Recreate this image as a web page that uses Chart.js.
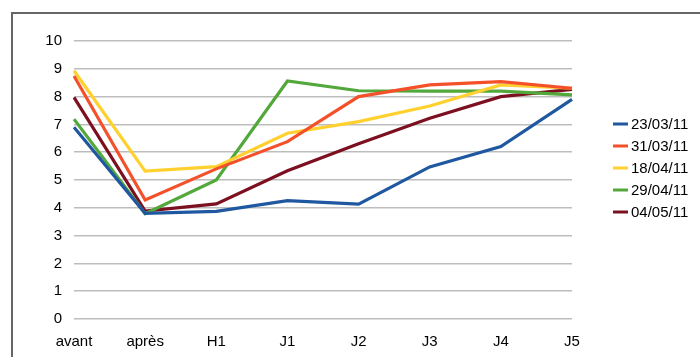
<!DOCTYPE html>
<html>
<head>
<meta charset="utf-8">
<script src="https://cdn.jsdelivr.net/npm/chart.js@4"></script>
<style>
  html, body { margin: 0; padding: 0; background: #fff; overflow: hidden; }
  #wrap { position: relative; width: 700px; height: 357px; }
  #frame {
    position: absolute; left: 11px; top: 12px; width: 720px; height: 400px;
    border-left: 2px solid #666; border-top: 2px solid #666;
  }
  #c { position: absolute; left: 0; top: 0; }
</style>
</head>
<body>
<div id="wrap">
  <div id="frame"></div>
  <canvas id="c" width="700" height="357"></canvas>
</div>
<script>
const steps = ['avant', 'après', 'H1', 'J1', 'J2', 'J3', 'J4', 'J5'];
const dates = ['23/03/11', '31/03/11', '18/04/11', '29/04/11', '04/05/11'];
const colors = ['#1f58a0', '#f4512a', '#ffd02e', '#52a83a', '#7c1020'];

const s23mar = [6.9, 3.8, 3.87, 4.26, 4.13, 5.47, 6.2, 7.9];
const s31mar = [8.74, 4.28, 5.4, 6.38, 8.0, 8.42, 8.54, 8.3];
const s18apr = [8.93, 5.32, 5.48, 6.68, 7.1, 7.66, 8.42, 8.3];
const s29apr = [7.19, 3.79, 5.0, 8.56, 8.21, 8.2, 8.2, 8.06];
const s04may = [7.97, 3.88, 4.14, 5.33, 6.3, 7.22, 8.0, 8.26];

const yTicks = [0, 1, 2, 3, 4, 5, 6, 7, 8, 9, 10];

const series = [s23mar, s31mar, s18apr, s29apr, s04may];
const font = { family: '"Liberation Sans", Arial, sans-serif', size: 15 };

// legend drawn at the right, line sample + label
const sideLegend = {
  id: 'sideLegend',
  afterDraw(chart) {
    const ctx = chart.ctx;
    ctx.save();
    ctx.font = `${font.size}px ${font.family}`;
    ctx.textBaseline = 'middle';
    chart.data.datasets.forEach((ds, i) => {
      const y = 124 + i * 22;
      ctx.strokeStyle = ds.borderColor;
      ctx.lineWidth = 3;
      ctx.beginPath();
      ctx.moveTo(613, y);
      ctx.lineTo(628, y);
      ctx.stroke();
      ctx.fillStyle = '#000';
      ctx.fillText(ds.label, 631, y + 1);
    });
    ctx.restore();
  }
};

new Chart(document.getElementById('c'), {
  type: 'line',
  data: {
    labels: steps,
    datasets: series.map((vals, i) => ({
      label: dates[i],
      data: vals,
      borderColor: colors[i],
      backgroundColor: colors[i],
      borderWidth: 3.2,
      pointRadius: 0,
      tension: 0
    }))
  },
  options: {
    responsive: false,
    animation: false,
    layout: { padding: { left: 0, right: 128, top: 41, bottom: 0 } },
    plugins: { legend: { display: false }, tooltip: { enabled: false } },
    scales: {
      x: {
        offset: false,
        grid: { display: false, drawTicks: false },
        border: { display: false },
        ticks: { font, color: '#000', padding: 14, maxRotation: 0 },
        afterFit: s => { s.height = 38; }
      },
      y: {
        min: 0,
        max: 10,
        afterBuildTicks: s => { s.ticks = yTicks.map(v => ({ value: v })); },
        grid: { color: '#bdbdbd', lineWidth: 1.5, drawTicks: false },
        border: { display: false },
        ticks: { font, color: '#000', padding: 12 },
        afterFit: s => { s.width = 74; }
      }
    }
  },
  plugins: [sideLegend]
});
</script>
</body>
</html>
